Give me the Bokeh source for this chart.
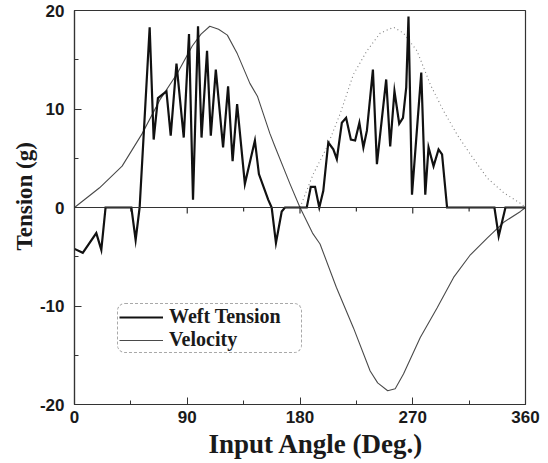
from bokeh.plotting import figure
from bokeh.models import Range1d, FixedTicker, Legend, LegendItem, Span, Title
from bokeh.embed import file_html
from bokeh.resources import INLINE

# ---- data ----
tension_angle = [0, 6.6, 17.4, 21.4, 24.8, 45.4, 48.8, 52, 60, 63.2, 66.6, 73.4, 76.8,
                 81.4, 87.2, 91.4, 94.6, 98.6, 101.4, 105.8, 108.8, 112.8, 118.6, 122.6,
                 126.2, 129.8, 136, 144, 147.2, 154.6, 157.4, 160.8, 165.4, 168, 185.4,
                 188.6, 192, 195.4, 198.6, 202.6, 206.6, 209.4, 213.4, 216.8, 220.6, 224,
                 227.4, 230.6, 233.4, 238.2, 241.4, 248.8, 252, 255.4, 259.2, 262.2, 264.8,
                 266.6, 269.4, 276.8, 280, 282.6, 286.6, 290.6, 293.4, 297.4, 335.2, 338.6,
                 344, 360]
weft_tension = [-4.2, -4.6, -2.6, -4.3, 0, 0, -3.3, 0, 18.3, 6.9, 11.1, 11.8, 7.3,
                14.6, 7.1, 17.6, 0.8, 18.4, 7.1, 15.9, 7.3, 14.0, 6.1, 12.3,
                4.7, 10.5, 2.4, 6.8, 3.4, 0.8, 0, -3.6, -0.4, 0, 0,
                2.1, 2.1, 0, 1.7, 6.6, 5.9, 4.9, 8.6, 9.1, 6.9, 6.8,
                8.6, 6.1, 7.8, 14.0, 4.4, 13.0, 6.2, 11.8, 8.5, 9.1, 12.2,
                19.4, 1.3, 13.7, 1.3, 6.1, 4.2, 5.9, 5.4, 0, 0, -2.9,
                0, 0]

velocity_angle = [0, 20, 38, 54, 68, 82, 94, 101, 108, 115, 122, 130, 140, 146, 156,
                  160, 172, 180, 190, 196, 209, 222.6, 236, 242, 250, 256, 262.6, 276,
                  289.4, 302.6, 316, 329.4, 342.6, 356, 360]
velocity = [0, 2.0, 4.2, 7.5, 10.9, 13.6, 16.4, 17.6, 18.4, 18.1, 17.5, 15.6, 12.6, 11.3, 7.5,
            6.2, 2.4, 0, -2.6, -3.7, -8.1, -12.2, -16.6, -17.8, -18.6, -18.4, -16.9, -13.2,
            -10.2, -7.1, -4.8, -3.1, -1.5, -0.4, 0]

speed_angle = [180, 190.6, 201.4, 212, 222.6, 233.4, 244, 254.6, 262.6, 273.4, 284,
               294.6, 305.4, 316, 329.4, 342.6, 357.4, 360]
speed_abs = [0, 3.4, 6.1, 9.5, 13.5, 15.9, 17.7, 18.3, 17.7, 15.9, 12.5,
             9.8, 7.4, 5.4, 3.0, 1.5, 0.3, 0]

x_major_ticks = [0, 90, 180, 270, 360]
x_minor_ticks = [45, 135, 225, 315]
y_major_ticks = [-20, -10, 0, 10, 20]
y_minor_ticks = [-15, -5, 5, 15]

SANS = "Liberation Sans"
SERIF = "Liberation Serif"
INK = "#1a1a1a"

p = figure(width=548, height=463, output_backend="svg", toolbar_location=None,
           x_range=Range1d(0, 360), y_range=Range1d(-20, 20),
           min_border_left=74, min_border_right=23, min_border_top=10, min_border_bottom=59)

p.xgrid.visible = False
p.ygrid.visible = False
p.outline_line_color = "#333333"
p.outline_line_width = 1.2
p.background_fill_color = "white"
p.border_fill_color = "white"

for ax in (p.xaxis[0], p.yaxis[0]):
    ax.axis_line_color = "#333333"
    ax.axis_line_width = 1.2
    ax.major_tick_line_color = "#333333"
    ax.minor_tick_line_color = "#333333"
    ax.major_tick_in = 7
    ax.major_tick_out = 0
    ax.minor_tick_in = 4
    ax.minor_tick_out = 0
    ax.major_label_text_font = SANS
    ax.major_label_text_font_style = "bold"
    ax.major_label_text_font_size = "17px"
    ax.major_label_text_color = INK

p.xaxis[0].ticker = FixedTicker(ticks=x_major_ticks, minor_ticks=x_minor_ticks)
p.yaxis[0].ticker = FixedTicker(ticks=y_major_ticks, minor_ticks=y_minor_ticks)
p.yaxis[0].major_label_overrides = {t: str(t) for t in y_major_ticks}
p.xaxis[0].major_label_standoff = 6
p.yaxis[0].major_label_standoff = 10

# axis titles as side-panel titles so they can be placed like the reference
p.add_layout(Title(text="Input Angle (Deg.)", align="left", offset=134, standoff=2,
                   vertical_align="bottom", text_font=SERIF, text_font_style="bold",
                   text_font_size="27px", text_color=INK), "below")
p.add_layout(Title(text="Tension (g)", align="left", offset=154, standoff=0,
                   vertical_align="bottom", text_font=SERIF, text_font_style="bold",
                   text_font_size="23px", text_color=INK), "left")

# zero line with its small ticks
p.add_layout(Span(location=0, dimension="width", line_color="#333333", line_width=1.2))
p.segment(x0=x_major_ticks[1:-1], y0=[0] * 3, x1=x_major_ticks[1:-1], y1=[-0.6] * 3,
          line_color="#333333", line_width=1.2)
p.segment(x0=x_minor_ticks, y0=[0] * 4, x1=x_minor_ticks, y1=[-0.4] * 4,
          line_color="#333333", line_width=1.2)

p.line(speed_angle, speed_abs, line_color="#808080", line_width=1.1, line_dash="1 3")
r_v = p.line(velocity_angle, velocity, line_color="#4a4a4a", line_width=1.1)
r_t = p.line(tension_angle, weft_tension, line_color="#111111", line_width=2.2,
             line_join="miter")

legend = Legend(items=[LegendItem(label="Weft Tension", renderers=[r_t]),
                       LegendItem(label="Velocity", renderers=[r_v])],
                location=(43, 51))
legend.label_text_font = SERIF
legend.label_text_font_style = "bold"
legend.label_text_font_size = "20px"
legend.label_text_color = INK
legend.glyph_width = 44
legend.glyph_height = 20
legend.label_height = 20
legend.label_width = 131
legend.label_standoff = 6
legend.padding = 1
legend.spacing = 0
legend.margin = 0
legend.border_line_color = "#555555"
legend.border_line_dash = "dotted"
legend.border_line_width = 1
legend.background_fill_alpha = 1
try:
    legend.border_radius = 8
except Exception:
    pass
p.add_layout(legend)

open("out.html", "w").write(file_html(p, INLINE))
